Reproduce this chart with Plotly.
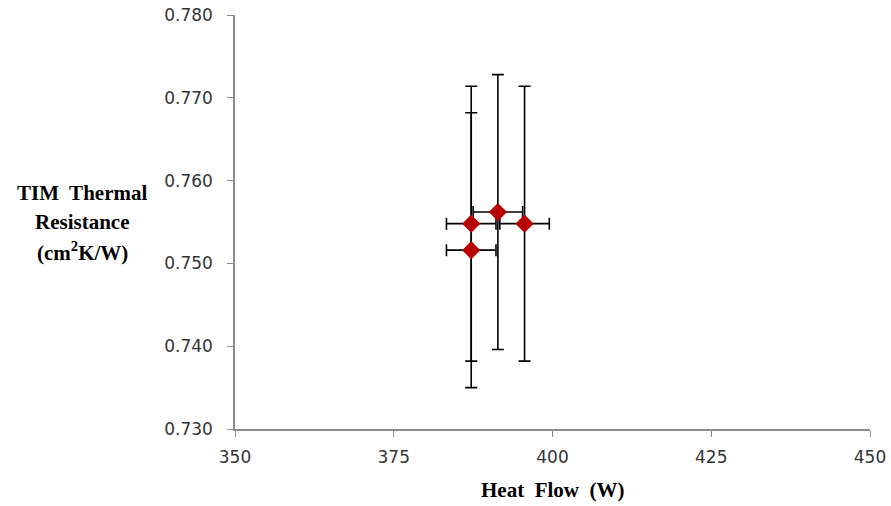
import plotly.graph_objects as go

heat_flow = [387.2, 391.4, 395.6, 387.2]
resistance = [0.7548, 0.7562, 0.7548, 0.7516]
x_err = [3.9, 3.9, 3.9, 3.9]
y_err = [0.0166, 0.0166, 0.0166, 0.0166]

x_ticks = [350, 375, 400, 425, 450]
y_ticks = [0.730, 0.740, 0.750, 0.760, 0.770, 0.780]

fig = go.Figure()
fig.add_trace(go.Scatter(
    x=heat_flow, y=resistance, mode="markers",
    marker=dict(symbol="diamond", size=14, color="#B80000"),
    error_x=dict(type="data", array=x_err, color="black", thickness=1.6, width=6),
    error_y=dict(type="data", array=y_err, color="black", thickness=1.6, width=6),
    showlegend=False,
))

tickfont = dict(family="DejaVu Sans", size=17, color="#333333")
fig.update_layout(
    width=891, height=506, autosize=False,
    margin=dict(l=235, r=21, t=15, b=77, pad=0),
    paper_bgcolor="white", plot_bgcolor="white",
    xaxis=dict(range=[350, 450], tickvals=x_ticks, ticktext=[str(v) for v in x_ticks],
               showgrid=False, zeroline=False, showline=True, linecolor="#8c8c8c", linewidth=1.5,
               ticks="outside", ticklen=6, tickcolor="#8c8c8c", tickfont=tickfont,
               ticklabelstandoff=6, automargin=False),
    yaxis=dict(range=[0.730, 0.780], tickvals=y_ticks, ticktext=[f"{v:.3f}" for v in y_ticks],
               showgrid=False, zeroline=False, showline=True, linecolor="#8c8c8c", linewidth=1.5,
               ticks="outside", ticklen=6, tickcolor="#8c8c8c", tickfont=tickfont,
               ticklabelstandoff=11, automargin=False),
)

title_font = dict(family="Liberation Serif", size=21, color="black")
lines = ["<b>TIM  Thermal</b>", "<b>Resistance</b>", "<b>(cm<sup>2</sup>K/W)</b>"]
ys = [193, 222, 251]
for txt, yp in zip(lines, ys):
    fig.add_annotation(text=txt, xref="paper", yref="paper",
                       x=(82 - 235) / 635, y=(429 - yp) / 414,
                       xanchor="center", yanchor="middle", showarrow=False, font=title_font)

fig.add_annotation(text="<b>Heat  Flow  (W)</b>", xref="paper", yref="paper",
                   x=(552 - 235) / 635, y=(429 - 490) / 414,
                   xanchor="center", yanchor="middle", showarrow=False, font=title_font)

fig.write_html("out.html")
